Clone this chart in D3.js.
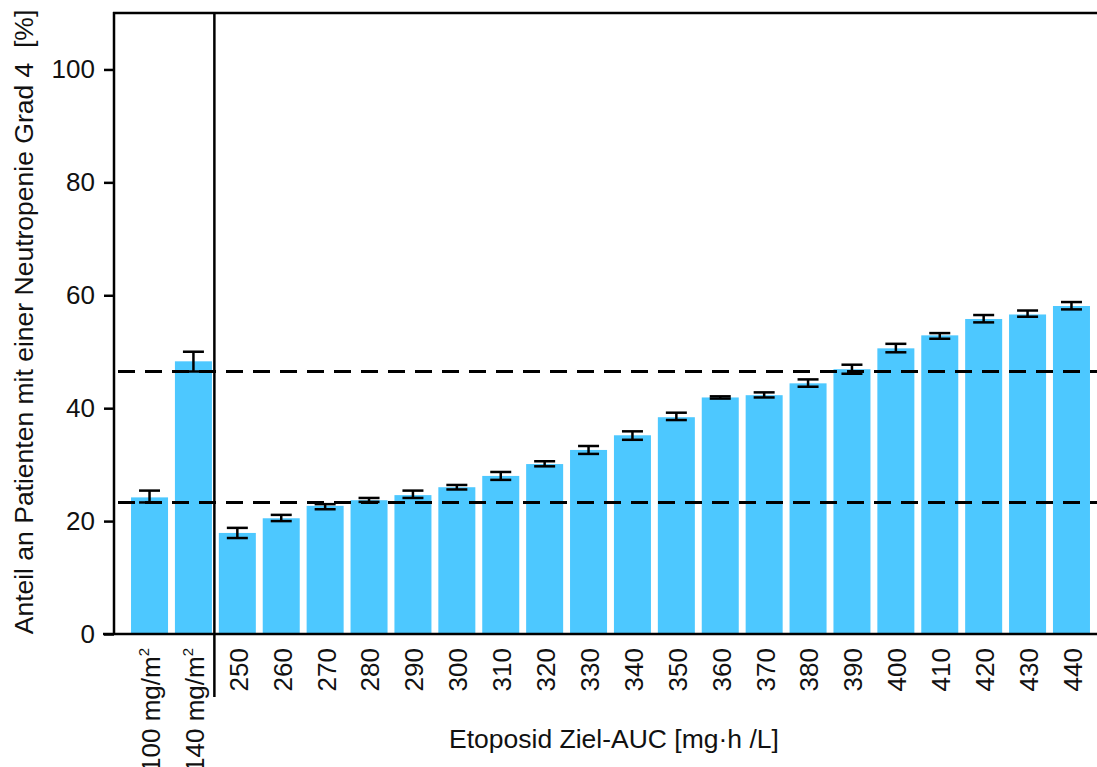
<!DOCTYPE html>
<html>
<head>
<meta charset="utf-8">
<script src="https://cdn.jsdelivr.net/npm/d3@7"></script>
<style>
  html, body { margin: 0; padding: 0; background: #fff; }
  svg { display: block; font-family: "Liberation Sans", Arial, sans-serif; }
</style>
</head>
<body>
<svg id="chart" width="1097" height="767"></svg>
<script>
// Dose groups: two fixed body-surface doses, then target AUC levels
const categories = ["100 mg/m²", "140 mg/m²", "250", "260", "270", "280", "290", "300", "310", "320",
  "330", "340", "350", "360", "370", "380", "390", "400", "410", "420", "430", "440"];
// Share of patients with grade-4 neutropenia [%]
const values = [24.2, 48.3, 17.9, 20.5, 22.7, 23.7, 24.6, 26.0, 28.0, 30.1, 32.6,
  35.2, 38.4, 41.9, 42.3, 44.4, 46.9, 50.6, 52.9, 55.8, 56.6, 58.1];
const lower = [23.3, 46.5, 17.0, 20.0, 22.1, 23.4, 24.1, 25.6, 27.3, 29.7, 31.9,
  34.4, 37.9, 41.7, 41.9, 43.8, 46.1, 49.9, 52.3, 55.2, 56.2, 57.5];
const upper = [25.4, 50.0, 18.8, 21.1, 23.0, 24.1, 25.4, 26.4, 28.7, 30.6, 33.3,
  35.9, 39.2, 42.1, 42.8, 45.1, 47.7, 51.4, 53.3, 56.5, 57.3, 58.8];
// Reference levels of the two fixed-dose groups
const refLines = [46.5, 23.3];
const yTicks = [0, 20, 40, 60, 80, 100];

const svg = d3.select("#chart");
const m = { left: 114, right: 1097, top: 13, bottom: 634 };
const lw = 2.5;

const x = d3.scaleBand().domain(categories).range([124, m.right])
  .paddingInner(0.157).paddingOuter(0.16);
const y = d3.scaleLinear().domain([0, 110]).range([m.bottom, m.top]);

const rows = categories.map((c, i) => ({ c, v: values[i], lo: lower[i], hi: upper[i] }));

// Bars
svg.append("g").selectAll("rect").data(rows).join("rect")
  .attr("x", d => x(d.c)).attr("width", x.bandwidth())
  .attr("y", d => y(d.v)).attr("height", d => y(0) - y(d.v))
  .attr("fill", "#4dc8ff");

// Error bars
const eb = svg.append("g").attr("stroke", "#000").attr("stroke-width", 2.5);
const capW = 10.5;
rows.forEach(d => {
  const cx = x(d.c) + x.bandwidth() / 2;
  eb.append("line").attr("x1", cx).attr("x2", cx).attr("y1", y(d.lo)).attr("y2", y(d.hi));
  eb.append("line").attr("x1", cx - capW).attr("x2", cx + capW).attr("y1", y(d.lo)).attr("y2", y(d.lo));
  eb.append("line").attr("x1", cx - capW).attr("x2", cx + capW).attr("y1", y(d.hi)).attr("y2", y(d.hi));
});

// Dashed reference lines
svg.append("g").selectAll("line").data(refLines).join("line")
  .attr("x1", m.left + 4).attr("x2", m.right)
  .attr("y1", d => y(d)).attr("y2", d => y(d))
  .attr("stroke", "#000").attr("stroke-width", 3)
  .attr("stroke-dasharray", "17,10");

// Y axis
const yAxis = svg.append("g").attr("transform", `translate(${m.left},0)`)
  .call(d3.axisLeft(y).tickValues(yTicks).tickSize(10).tickPadding(9));
yAxis.select(".domain").remove();
yAxis.selectAll(".tick line").attr("stroke", "#000").attr("stroke-width", lw);
yAxis.selectAll(".tick text").attr("fill", "#111").attr("font-size", 26)
  .attr("font-family", "Liberation Sans, Arial, sans-serif");

// Frame lines: left axis, top border, bottom axis
svg.append("line").attr("x1", m.left).attr("x2", m.left).attr("y1", m.top - 1).attr("y2", m.bottom)
  .attr("stroke", "#000").attr("stroke-width", lw);
svg.append("line").attr("x1", m.left - 1).attr("x2", m.right).attr("y1", m.top).attr("y2", m.top)
  .attr("stroke", "#000").attr("stroke-width", lw);
svg.append("line").attr("x1", 103).attr("x2", m.right).attr("y1", m.bottom).attr("y2", m.bottom)
  .attr("stroke", "#000").attr("stroke-width", lw);

// Divider between fixed doses and AUC targets
const divX = (x(categories[1]) + x.bandwidth() + x(categories[2])) / 2 - 1;
svg.append("line").attr("x1", divX).attr("x2", divX).attr("y1", m.top).attr("y2", 697)
  .attr("stroke", "#000").attr("stroke-width", lw);

// Category labels (rotated)
const lab = svg.append("g").attr("font-size", 26).attr("fill", "#111");
categories.forEach(c => {
  const cx = x(c) + x.bandwidth() / 2;
  const t = lab.append("text")
    .attr("transform", `translate(${cx + 1},648) rotate(-90)`)
    .attr("text-anchor", "end").attr("dy", "0.36em");
  if (c.includes("²")) {
    t.append("tspan").text(c.replace("²", ""));
    t.append("tspan").attr("font-size", 15).attr("dy", "-0.75em").text("2");
  } else {
    t.text(c);
  }
});

// Axis titles
svg.append("text")
  .attr("transform", "translate(33,322) rotate(-90)")
  .attr("text-anchor", "middle").attr("font-size", 26.5).attr("fill", "#111")
  .text("Anteil an Patienten mit einer Neutropenie Grad 4\u00a0 [%]");
svg.append("text")
  .attr("x", 614).attr("y", 748)
  .attr("text-anchor", "middle").attr("font-size", 26.5).attr("fill", "#111")
  .text("Etoposid Ziel-AUC [mg·h /L]");
</script>
</body>
</html>
